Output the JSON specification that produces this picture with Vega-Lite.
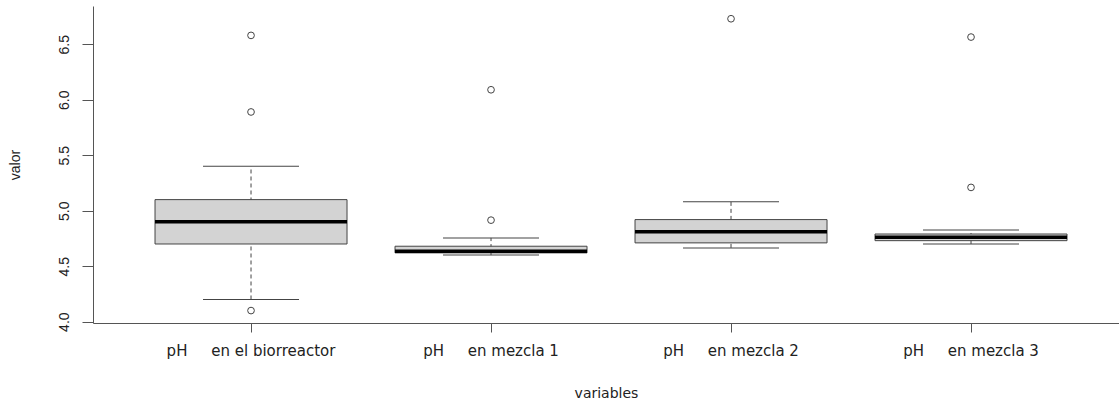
{
  "$schema": "https://vega.github.io/schema/vega-lite/v6.json",
  "width": 1026,
  "height": 317,
  "autosize": {"type": "none"},
  "padding": {"left": 93, "top": 6, "right": 0, "bottom": 82},
  "background": "white",
  "view": {"stroke": "transparent", "strokeWidth": 0},
  "config": {
    "view": {"stroke": "transparent", "strokeWidth": 0},
    "axis": {
      "domainColor": "#555555",
      "tickColor": "#555555",
      "labelColor": "#222222",
      "titleColor": "#222222",
      "grid": false,
      "labelFontWeight": "normal",
      "titleFontWeight": "normal"
    }
  },
  "datasets": {
    "stats": [
      {"variable": "pH\u00a0\u00a0\u00a0\u00a0\u00a0en el biorreactor", "lo": 4.2, "q1": 4.7, "med": 4.9, "q3": 5.1, "hi": 5.4},
      {"variable": "pH\u00a0\u00a0\u00a0\u00a0\u00a0en mezcla 1", "lo": 4.6, "q1": 4.62, "med": 4.635, "q3": 4.68, "hi": 4.755},
      {"variable": "pH\u00a0\u00a0\u00a0\u00a0\u00a0en mezcla 2", "lo": 4.665, "q1": 4.71, "med": 4.81, "q3": 4.92, "hi": 5.08},
      {"variable": "pH\u00a0\u00a0\u00a0\u00a0\u00a0en mezcla 3", "lo": 4.70, "q1": 4.73, "med": 4.76, "q3": 4.79, "hi": 4.826}
    ],
    "outliers": [
      {"variable": "pH\u00a0\u00a0\u00a0\u00a0\u00a0en el biorreactor", "valor": 6.58},
      {"variable": "pH\u00a0\u00a0\u00a0\u00a0\u00a0en el biorreactor", "valor": 5.89},
      {"variable": "pH\u00a0\u00a0\u00a0\u00a0\u00a0en el biorreactor", "valor": 4.1},
      {"variable": "pH\u00a0\u00a0\u00a0\u00a0\u00a0en mezcla 1", "valor": 6.09},
      {"variable": "pH\u00a0\u00a0\u00a0\u00a0\u00a0en mezcla 1", "valor": 4.915},
      {"variable": "pH\u00a0\u00a0\u00a0\u00a0\u00a0en mezcla 2", "valor": 6.73},
      {"variable": "pH\u00a0\u00a0\u00a0\u00a0\u00a0en mezcla 3", "valor": 6.565},
      {"variable": "pH\u00a0\u00a0\u00a0\u00a0\u00a0en mezcla 3", "valor": 5.21}
    ]
  },
  "encoding": {
    "y": {
      "type": "quantitative",
      "scale": {"domain": [3.988, 6.845], "nice": false, "zero": false},
      "axis": {
        "title": "valor",
        "values": [4, 4.5, 5, 5.5, 6, 6.5],
        "format": ".1f",
        "labelAngle": 270,
        "labelAlign": "center",
        "labelBaseline": "bottom",
        "labelPadding": 11,
        "labelFont": "Liberation Sans",
        "labelFontSize": 14,
        "labelFontWeight": "normal",
        "tickSize": 11,
        "titleFont": "Liberation Sans",
        "titleFontSize": 14,
        "titleFontWeight": "normal",
        "titleX": -78,
        "titleY": 158.5,
        "titleAlign": "center",
        "titleBaseline": "middle"
      }
    }
  },
  "layer": [
    {
      "mark": {"type": "rule", "color": "#555555", "strokeWidth": 1},
      "encoding": {"y": {"datum": 6.845}}
    },
    {
      "data": {"name": "stats"},
      "encoding": {
        "x": {
          "field": "variable",
          "type": "nominal",
          "sort": null,
          "scale": {"paddingInner": 0.2, "paddingOuter": 0.2375, "align": 0.544},
          "axis": {
            "orient": "bottom",
            "title": "variables",
            "labelAngle": 0,
            "labelFont": "DejaVu Sans",
            "labelFontSize": 15,
            "labelFontWeight": "normal",
            "labelPadding": 11,
            "tickSize": 9,
            "titleFont": "DejaVu Sans",
            "titleFontSize": 14,
            "titleFontWeight": "normal",
            "titleY": 70,
            "titleBaseline": "middle"
          }
        }
      },
      "layer": [
        {
          "mark": {"type": "rule", "color": "#444444", "strokeDash": [4, 3], "strokeWidth": 1, "opacity": 1},
          "encoding": {"y": {"field": "lo"}, "y2": {"field": "hi"}}
        },
        {
          "mark": {"type": "bar", "fill": "#d3d3d3", "stroke": "#444444", "strokeWidth": 1, "opacity": 1},
          "encoding": {"y": {"field": "q1"}, "y2": {"field": "q3"}}
        },
        {
          "mark": {"type": "tick", "color": "#444444", "size": 96, "thickness": 1, "opacity": 1},
          "encoding": {"y": {"field": "lo"}}
        },
        {
          "mark": {"type": "tick", "color": "#444444", "size": 96, "thickness": 1, "opacity": 1},
          "encoding": {"y": {"field": "hi"}}
        },
        {
          "mark": {"type": "tick", "color": "#000000", "size": 192, "thickness": 3.5, "opacity": 1},
          "encoding": {"y": {"field": "med"}}
        }
      ]
    },
    {
      "data": {"name": "outliers"},
      "mark": {"type": "point", "shape": "circle", "filled": false, "stroke": "#444444", "strokeWidth": 1, "size": 45, "opacity": 1},
      "encoding": {
        "y": {"field": "valor"},
        "x": {"field": "variable", "type": "nominal", "sort": null}
      }
    }
  ]
}
